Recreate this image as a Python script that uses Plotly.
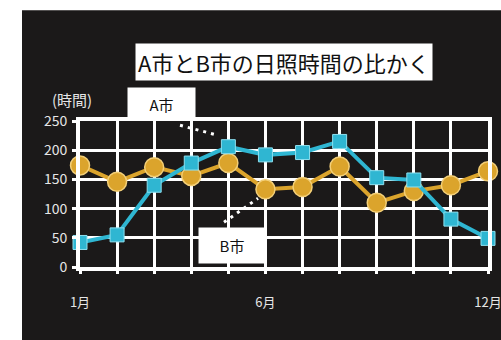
import plotly.graph_objects as go

months = list(range(1, 13))
month_labels = ["1月", "", "", "", "", "6月", "", "", "", "", "", "12月"]
a_values = [42, 55, 140, 178, 206, 192, 196, 215, 153, 149, 82, 49]
b_values = [174, 146, 171, 156, 178, 133, 137, 172, 110, 130, 140, 164]
y_ticks = [0, 50, 100, 150, 200, 250]

W, H = 501, 340
L, R, T, B = 80, 488, 120.7, 266.7


def px(x):
    return (x - L) / (R - L)


def py(y):
    return (B - y) / (B - T)


BG = "#1b1919"
BLUE = "#2fb6d2"
GOLD = "#dba42c"
FONT = "Noto Sans CJK JP"

fig = go.Figure()
fig.add_trace(go.Scatter(
    x=months, y=b_values, mode="lines+markers", name="B市",
    line=dict(color=GOLD, width=4),
    marker=dict(symbol="circle", size=19, color=GOLD, line=dict(color="#f3cf78", width=1.5)),
    cliponaxis=False))
fig.add_trace(go.Scatter(
    x=months, y=a_values, mode="lines+markers", name="A市",
    line=dict(color=BLUE, width=4),
    marker=dict(symbol="square", size=14, color=BLUE, line=dict(color="#8ee0f0", width=1)),
    cliponaxis=False))

shapes = [
    dict(type="rect", xref="paper", yref="paper", x0=px(22), x1=px(501), y0=py(10), y1=py(340),
         fillcolor=BG, line=dict(width=0), layer="below"),
    dict(type="line", xref="paper", yref="paper", x0=px(180), y0=py(125), x1=px(218), y1=py(135),
         line=dict(color="white", width=3, dash="3px,5px")),
    dict(type="line", xref="paper", yref="paper", x0=px(224), y0=py(222), x1=px(258), y1=py(198),
         line=dict(color="white", width=3, dash="3px,5px")),
]

annotations = [
    dict(text="A市とB市の日照時間の比かく", xref="paper", yref="paper", x=px(284), y=py(62),
         showarrow=False, font=dict(family=FONT, size=22, color="#111"), bgcolor="white",
         borderpad=2, xanchor="center", yanchor="middle"),
    dict(text="(時間)", xref="paper", yref="paper", x=px(72), y=py(99),
         showarrow=False, font=dict(family=FONT, size=15, color="#e6e6e6"),
         xanchor="center", yanchor="middle"),
    dict(text="A市", xref="paper", yref="paper", x=px(161), y=py(104),
         showarrow=False, font=dict(family=FONT, size=15, color="#111"), bgcolor="white",
         width=61, height=26, borderpad=3, xanchor="center", yanchor="middle"),
    dict(text="B市", xref="paper", yref="paper", x=px(232), y=py(245.5),
         showarrow=False, font=dict(family=FONT, size=15, color="#111"), bgcolor="white",
         width=60, height=29, borderpad=3, xanchor="center", yanchor="middle"),
]

fig.update_layout(
    width=W, height=H, autosize=False,
    margin=dict(l=L, r=W - R, t=T, b=H - B, pad=0, autoexpand=False),
    paper_bgcolor="white", plot_bgcolor=BG,
    showlegend=False,
    shapes=shapes, annotations=annotations,
    font=dict(family=FONT, color="#e6e6e6"),
)
fig.update_xaxes(
    range=[1, 12], tickvals=months, ticktext=month_labels,
    showgrid=True, gridcolor="white", gridwidth=2.5,
    showline=True, linecolor="white", linewidth=4, mirror=True,
    ticks="outside", ticklen=3, tickcolor="white", tickwidth=3,
    zeroline=False, ticklabelstandoff=17, automargin=False,
    ticklabeloverflow="allow",
    tickfont=dict(family=FONT, size=13, color="#e6e6e6"),
)
fig.update_yaxes(
    range=[0, 250], tickvals=y_ticks,
    showgrid=True, gridcolor="white", gridwidth=2.5,
    showline=True, linecolor="white", linewidth=4, mirror=True,
    ticks="outside", ticklen=4, tickcolor="white", tickwidth=3,
    zeroline=False, ticklabelstandoff=2, automargin=False,
    tickfont=dict(family=FONT, size=14, color="#e6e6e6"),
)

fig.write_html("out.html", config={"responsive": False})
